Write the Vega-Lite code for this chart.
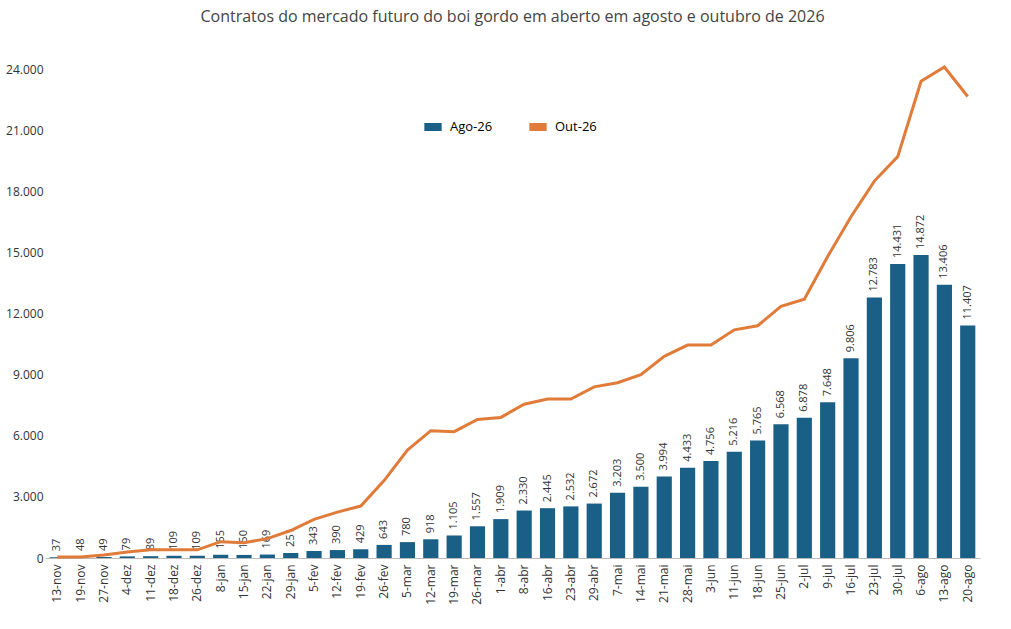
{
"$schema":"https://vega.github.io/schema/vega-lite/v6.json",
"width":935,"height":489,
"padding":{"left":5,"top":8,"right":10,"bottom":5},
"config":{"locale":{"number":{"decimal":",","thousands":".","grouping":[3],"currency":["R$",""]}},"view":{"stroke":null},"font":"Open Sans"},
"title":{"text":"Contratos do mercado futuro do boi gordo em aberto em agosto e outubro de 2026","fontSize":16,"fontWeight":"normal","color":"#444","offset":36},
"data":{"values":[
{"d":"13-nov","a":37,"o":50},{"d":"19-nov","a":48,"o":50},{"d":"27-nov","a":49,"o":150},{"d":"4-dez","a":79,"o":300},{"d":"11-dez","a":89,"o":400},{"d":"18-dez","a":109,"o":400},{"d":"26-dez","a":109,"o":400},{"d":"8-jan","a":155,"o":800},{"d":"15-jan","a":150,"o":750},{"d":"22-jan","a":169,"o":950},{"d":"29-jan","a":251,"o":1350},{"d":"5-fev","a":343,"o":1900},{"d":"12-fev","a":390,"o":2250},{"d":"19-fev","a":429,"o":2550},{"d":"26-fev","a":643,"o":3800},{"d":"5-mar","a":780,"o":5300},{"d":"12-mar","a":918,"o":6250},{"d":"19-mar","a":1105,"o":6200},{"d":"26-mar","a":1557,"o":6800},{"d":"1-abr","a":1909,"o":6900},{"d":"8-abr","a":2330,"o":7550},{"d":"16-abr","a":2445,"o":7800},{"d":"23-abr","a":2532,"o":7800},{"d":"29-abr","a":2672,"o":8400},{"d":"7-mai","a":3203,"o":8600},{"d":"14-mai","a":3500,"o":9000},{"d":"21-mai","a":3994,"o":9900},{"d":"28-mai","a":4433,"o":10450},{"d":"3-jun","a":4756,"o":10450},{"d":"11-jun","a":5216,"o":11200},{"d":"18-jun","a":5765,"o":11400},{"d":"25-jun","a":6568,"o":12350},{"d":"2-jul","a":6878,"o":12700},{"d":"9-jul","a":7648,"o":14800},{"d":"16-jul","a":9806,"o":16750},{"d":"23-jul","a":12783,"o":18500},{"d":"30-jul","a":14431,"o":19700},{"d":"6-ago","a":14872,"o":23400},{"d":"13-ago","a":13406,"o":24100},{"d":"20-ago","a":11407,"o":22650}
]},
"encoding":{"x":{"field":"d","type":"nominal","sort":null,"title":null,"scale":{"paddingInner":0.35,"paddingOuter":0.2},
"axis":{"labelAngle":-90,"labelFontSize":12,"labelColor":"#333","ticks":false,"domainColor":"#bbb","labelPadding":6}}},
"layer":[
{"mark":{"type":"bar"},"encoding":{"y":{"field":"a","type":"quantitative","title":null,"scale":{"domain":[0,24000]},
"axis":{"values":[0,1500,3000,4500,6000,7500,9000,10500,12000,13500,15000,16500,18000,19500,21000,22500,24000],"format":",d","labelOverlap":false,"grid":false,"domain":false,"ticks":false,"labelFontSize":12,"labelColor":"#333"}},
"color":{"datum":"Ago-26","type":"nominal","scale":{"domain":["Ago-26","Out-26"],"range":["#1a5f86","#e07b39"]},
"legend":{"title":null,"orient":"none","legendX":375,"legendY":45,"direction":"horizontal","labelFontSize":13,"symbolType":"stroke","symbolStrokeWidth":8,"symbolSize":300,"columnPadding":20}}}},
{"mark":{"type":"text","angle":-90,"align":"left","baseline":"middle","dx":6,"fontSize":11,"color":"#333"},
"encoding":{"y":{"field":"a","type":"quantitative"},"text":{"field":"a","type":"quantitative","format":",d"}}},
{"mark":{"type":"line","strokeWidth":3},"encoding":{"y":{"field":"o","type":"quantitative"},
"color":{"datum":"Out-26","type":"nominal"}}}
]
}
